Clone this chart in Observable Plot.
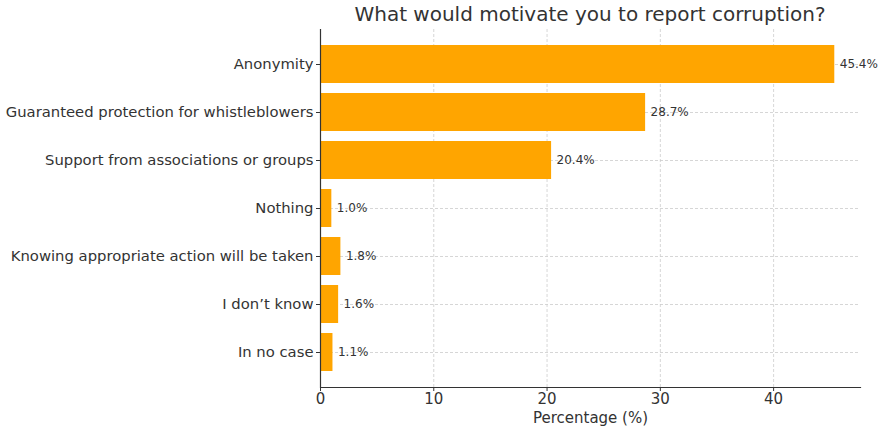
<!DOCTYPE html>
<html>
<head>
<meta charset="utf-8">
<script src="https://cdn.jsdelivr.net/npm/d3@7"></script>
<script src="https://cdn.jsdelivr.net/npm/@observablehq/plot@0.6"></script>
<style>
  html, body { margin: 0; padding: 0; background: #fff; }
  body { width: 878px; height: 431px; overflow: hidden; font-family: "DejaVu Sans", sans-serif; }
  #title { height: 28px; width: 878px; position: relative; }
  #title span { position: absolute; left: 590px; top: 2px; transform: translateX(-50%); white-space: nowrap; font-size: 20px; line-height: 24px; color: #333; }
  #chart svg { display: block; }
</style>
</head>
<body>
<div id="title"><span>What would motivate you to report corruption?</span></div>
<div id="chart"></div>
<script>
const categories = [
  "Anonymity",
  "Guaranteed protection for whistleblowers",
  "Support from associations or groups",
  "Nothing",
  "Knowing appropriate action will be taken",
  "I don’t know",
  "In no case"
];
const values = [45.4, 28.7, 20.4, 1.0, 1.8, 1.6, 1.1];
const xTicks = [0, 10, 20, 30, 40];

const data = categories.map((c, i) => ({category: c, value: values[i]}));

const chart = Plot.plot({
  width: 878,
  height: 403,
  marginTop: 1,
  marginBottom: 44,
  marginLeft: 320,
  marginRight: 18,
  style: {fontFamily: "DejaVu Sans, sans-serif", color: "#333", background: "#fff"},
  x: {domain: [0, 47.67], ticks: xTicks},
  y: {domain: categories, paddingInner: 0.2, paddingOuter: 0.32},
  marks: [
    Plot.ruleX(xTicks, {stroke: "#cccccc", strokeWidth: 0.8, strokeDasharray: "3,2"}),
    Plot.ruleY(categories, {y: d => d, stroke: "#cccccc", strokeWidth: 0.8, strokeDasharray: "3,2"}),
    Plot.barX(data, {x: "value", y: "category", fill: "#FFA500"}),
    Plot.text(data, {x: "value", y: "category", text: d => d.value.toFixed(1) + "%", textAnchor: "start", dx: 5, fontSize: 12, fill: "#333"}),
    Plot.axisY({tickSize: 4, tickPadding: 3, fontSize: 14.8, label: null, stroke: "#333"}),
    Plot.axisX({ticks: xTicks, tickSize: 4, tickPadding: 2, fontSize: 15, label: "Percentage (%)", labelAnchor: "center", labelArrow: "none", labelOffset: 35, stroke: "#333"}),
    Plot.ruleX([0], {stroke: "#333", strokeWidth: 1.2}),
    Plot.frame({anchor: "bottom", stroke: "#333", strokeWidth: 1.2})
  ]
});
document.getElementById("chart").appendChild(chart);
</script>
</body>
</html>
